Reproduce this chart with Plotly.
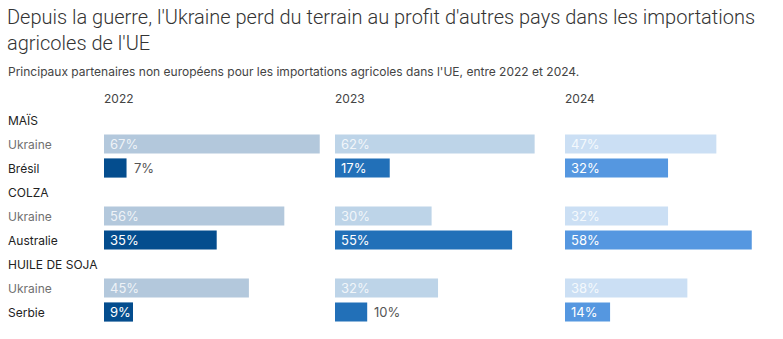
import plotly.graph_objects as go

years = ["2022", "2023", "2024"]
categories = ["MAÏS", "COLZA", "HUILE DE SOJA"]
partners = ["Brésil", "Australie", "Serbie"]
ukraine_2022 = [67, 56, 45]
ukraine_2023 = [62, 30, 32]
ukraine_2024 = [47, 32, 38]
partner_2022 = [7, 35, 9]
partner_2023 = [17, 55, 10]
partner_2024 = [32, 58, 14]

ukraine_vals = [ukraine_2022, ukraine_2023, ukraine_2024]
partner_vals = [partner_2022, partner_2023, partner_2024]

ukr_colors = ["#b3c8dc", "#bdd4e8", "#cbdff4"]
par_colors = ["#044d8e", "#2270b8", "#5597e0"]
outside_labels = {("2022", "Brésil"), ("2023", "Serbie")}

FONT = "Inter"
TITLE_FONT = "Roboto"
W, H = 783, 339
T, B = 108, 15
PH = H - T - B
panel_left_px = [104, 335, 565]
panel_w_px = 218
px_per_pct = 3.22
xmax = panel_w_px / px_per_pct


def py(px_y):
    """convert a pixel row (from top) into paper y"""
    return (H - B - px_y) / PH


fig = go.Figure()

ukr_rows = [3 * i + 1 for i in range(len(categories))]
par_rows = [3 * i + 2 for i in range(len(categories))]

for p, yr in enumerate(years):
    xa = "x" if p == 0 else f"x{p+1}"
    fig.add_trace(go.Bar(x=ukraine_vals[p], y=ukr_rows, orientation="h",
                         marker=dict(color=ukr_colors[p], line=dict(width=0)),
                         width=0.8, xaxis=xa, yaxis="y", hoverinfo="skip",
                         showlegend=False))
    fig.add_trace(go.Bar(x=partner_vals[p], y=par_rows, orientation="h",
                         marker=dict(color=par_colors[p], line=dict(width=0)),
                         width=0.8, xaxis=xa, yaxis="y", hoverinfo="skip",
                         showlegend=False))
    ax_key = "xaxis" if p == 0 else f"xaxis{p+1}"
    d0 = panel_left_px[p] / W
    d1 = (panel_left_px[p] + panel_w_px) / W
    fig.layout[ax_key] = dict(domain=[d0, d1], range=[0, xmax], visible=False,
                              fixedrange=True)
    fig.add_annotation(text=yr, xref="paper", yref="paper", x=(panel_left_px[p] - 2) / W,
                       y=py(98), xanchor="left", yanchor="middle", showarrow=False,
                       font=dict(family=FONT, size=12, color="#444"))
    for i in range(len(categories)):
        fig.add_annotation(text=f"{ukraine_vals[p][i]}%", xref=xa, yref="y",
                           x=0, y=ukr_rows[i], xanchor="left", yanchor="middle",
                           xshift=4, showarrow=False,
                           font=dict(family=FONT, size=13, color="rgba(255,255,255,0.8)"))
        v = partner_vals[p][i]
        if (yr, partners[i]) in outside_labels:
            fig.add_annotation(text=f"{v}%", xref=xa, yref="y", x=v,
                               y=par_rows[i], xanchor="left", yanchor="middle",
                               xshift=5, showarrow=False,
                               font=dict(family=FONT, size=13, color="#555"))
        else:
            fig.add_annotation(text=f"{v}%", xref=xa, yref="y", x=0,
                               y=par_rows[i], xanchor="left", yanchor="middle",
                               xshift=4, showarrow=False,
                               font=dict(family=FONT, size=13, color="#ffffff"))

for i, cat in enumerate(categories):
    fig.add_annotation(text=cat, xref="paper", yref="y", x=6 / W, y=3 * i,
                       xanchor="left", yanchor="middle", showarrow=False,
                       font=dict(family=FONT, size=12, color="#222"))
    fig.add_annotation(text="Ukraine", xref="paper", yref="y", x=6 / W,
                       y=ukr_rows[i], xanchor="left", yanchor="middle",
                       showarrow=False, font=dict(family=FONT, size=12, color="#707070"))
    fig.add_annotation(text=partners[i], xref="paper", yref="y", x=6 / W,
                       y=par_rows[i], xanchor="left", yanchor="middle",
                       showarrow=False, font=dict(family=FONT, size=12, color="#222"))

fig.add_annotation(text="Depuis la guerre, l'Ukraine perd du terrain au profit d'autres pays dans les importations<br>agricoles de l'UE",
                   xref="paper", yref="paper", x=5 / W, y=py(3), yanchor="top",
                   xanchor="left", align="left", showarrow=False,
                   font=dict(family=TITLE_FONT, size=20, color="#333", weight=300))
fig.add_annotation(text="Principaux partenaires non européens pour les importations agricoles dans l'UE, entre 2022 et 2024.",
                   xref="paper", yref="paper", x=6 / W, y=py(72), yanchor="middle",
                   xanchor="left", align="left", showarrow=False,
                   font=dict(family=FONT, size=12, color="#444"))

fig.update_layout(
    width=W, height=H,
    margin=dict(l=0, r=0, t=T, b=B),
    paper_bgcolor="white", plot_bgcolor="white",
    barmode="overlay",
    yaxis=dict(range=[8.5, -0.5], visible=False, fixedrange=True),
    font=dict(family=FONT),
)

fig.write_html("out.html", config={"displayModeBar": False})
